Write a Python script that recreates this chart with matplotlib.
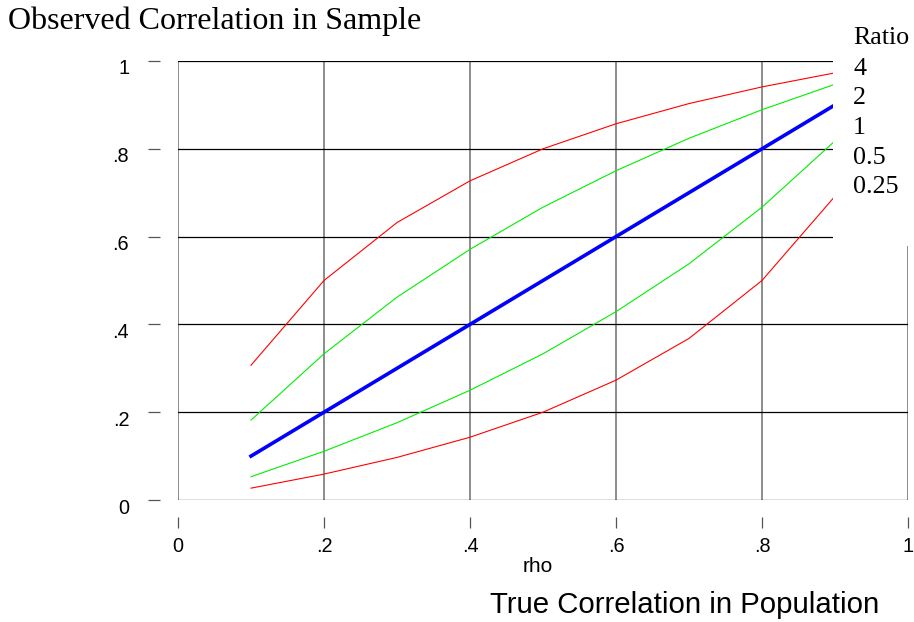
import matplotlib
matplotlib.use("Agg")
import matplotlib.pyplot as plt
from matplotlib.patches import Rectangle
from matplotlib.transforms import ScaledTranslation

rho = [0.1, 0.2, 0.3, 0.4, 0.5, 0.6, 0.7, 0.8, 0.9]
ratio_labels = ["4", "2", "1", "0.5", "0.25"]
obs_4 = [0.307, 0.500, 0.632, 0.727, 0.800, 0.857, 0.903, 0.941, 0.973]
obs_2 = [0.182, 0.333, 0.462, 0.571, 0.667, 0.750, 0.824, 0.889, 0.947]
obs_1 = [0.100, 0.200, 0.300, 0.400, 0.500, 0.600, 0.700, 0.800, 0.900]
obs_05 = [0.053, 0.111, 0.176, 0.250, 0.333, 0.429, 0.538, 0.667, 0.818]
obs_025 = [0.027, 0.059, 0.097, 0.143, 0.200, 0.273, 0.368, 0.500, 0.692]

x_ticks = [0, 0.2, 0.4, 0.6, 0.8, 1.0]
x_ticklabels = ["0", ".2", ".4", ".6", ".8", "1"]
y_ticks = [0, 0.2, 0.4, 0.6, 0.8, 1.0]
y_ticklabels = ["0", ".2", ".4", ".6", ".8", "1"]

W, H = 914, 622
fig = plt.figure(figsize=(W / 100, H / 100), dpi=100)
L, R, T, B = 178, 908, 61, 500
ax = fig.add_axes([L / W, 1 - B / H, (R - L) / W, (B - T) / H])
ax.set_xlim(0, 1)
ax.set_ylim(0, 1)

# grid
for xv in x_ticks:
    ax.axvline(xv, color="#6e6e6e", lw=1.1, zorder=1)
for yv in y_ticks:
    ax.axhline(yv, color="black", lw=0.9, zorder=1)

# series
ax.plot(rho, obs_4, color="#ff0000", lw=0.8, zorder=3)
ax.plot(rho, obs_2, color="#00ee00", lw=0.8, zorder=3)
ax.plot(rho, obs_1, color="#0000ff", lw=2.6, zorder=4)
ax.plot(rho, obs_05, color="#00ee00", lw=0.8, zorder=3)
ax.plot(rho, obs_025, color="#ff0000", lw=0.8, zorder=3)

for s in ax.spines.values():
    s.set_visible(False)
ax.spines["left"].set_position(("outward", 13))
ax.spines["bottom"].set_position(("outward", 12.2))

ax.set_xticks(x_ticks)
ax.set_xticklabels(x_ticklabels)
ax.set_yticks(y_ticks)
ax.set_yticklabels(y_ticklabels)
ax.tick_params(axis="y", length=8.6, width=0.9, color="#555555", pad=13.5,
               labelsize=14.3, labelfontfamily="Liberation Sans")
ax.tick_params(axis="x", length=7.9, width=0.9, color="#555555", pad=6.5,
               labelsize=14.3, labelfontfamily="Liberation Sans")
off = ScaledTranslation(0, -6 / 100, fig.dpi_scale_trans)
for lab in ax.get_yticklabels():
    lab.set_transform(lab.get_transform() + off)

# white box covering legend area
fig.add_artist(Rectangle((833 / W, 1 - 246 / H), 1, 1, transform=fig.transFigure,
                         facecolor="white", edgecolor="none", zorder=5))

# texts
fig.text(8 / W, 1 - 29 / H, "Observed Correlation in Sample", family="Liberation Serif",
         fontsize=23, va="baseline", ha="left", zorder=6)
fig.text(853 / W, 1 - 44 / H, "Ratio", family="Liberation Serif", fontsize=18.7,
         va="baseline", ha="left", zorder=6)
for i, lbl in enumerate(ratio_labels):
    fig.text(853 / W, 1 - (75 + 29.5 * i) / H, lbl, family="Liberation Serif",
             fontsize=18.7, va="baseline", ha="left", zorder=6)
fig.text(538 / W, 1 - 572 / H, "rho", family="Liberation Sans", fontsize=15,
         va="baseline", ha="center", zorder=6)
fig.text(490 / W, 1 - 613 / H, "True Correlation in Population", family="Liberation Sans",
         fontsize=21.2, va="baseline", ha="left", zorder=6)

fig.savefig("out.png", dpi=100)
